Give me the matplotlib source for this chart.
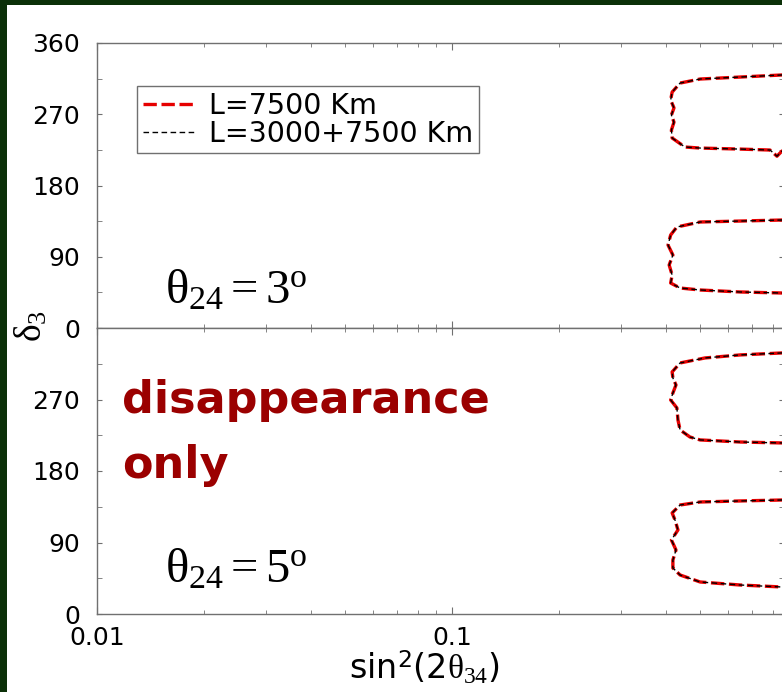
import numpy as np
import matplotlib.pyplot as plt
from matplotlib.patches import Rectangle
from matplotlib.ticker import FixedLocator, NullFormatter

plt.rcParams['font.family'] = ['DejaVu Sans']
plt.rcParams['mathtext.fontset'] = 'custom'
plt.rcParams['mathtext.rm'] = 'Liberation Serif'
plt.rcParams['mathtext.it'] = 'Liberation Serif:italic'
plt.rcParams['mathtext.sf'] = 'DejaVu Sans'

# contour points: sin^2(2 theta34) and delta3 (deg), theta24 = 3 deg panel
top_upper_x = [0.90, 0.850, 0.648, 0.500, 0.439, 0.417, 0.413, 0.422, 0.415, 0.422,
               0.415, 0.417, 0.453, 0.500, 0.648, 0.787, 0.823, 0.850, 0.90]
top_upper_d = [319.6, 319.6, 317.0, 314.5, 309.4, 298.0, 288.0, 278.0, 269.0, 260.0,
               250.0, 240.0, 228.6, 227.3, 226.0, 224.8, 217.0, 223.5, 223.5]
top_lower_x = [0.90, 0.850, 0.648, 0.500, 0.430, 0.413, 0.406, 0.419, 0.409, 0.417,
               0.413, 0.439, 0.500, 0.648, 0.850, 0.90]
top_lower_d = [136.4, 136.4, 135.1, 133.9, 127.6, 117.5, 104.8, 92.2, 79.6, 66.9,
               56.8, 50.5, 48.0, 45.5, 44.2, 44.2]

# theta24 = 5 deg panel
bot_upper_x = [0.90, 0.850, 0.648, 0.516, 0.439, 0.417, 0.419, 0.4275, 0.419, 0.413,
               0.430, 0.433, 0.439, 0.468, 0.500, 0.648, 0.850, 0.90]
bot_upper_d = [328.6, 328.6, 326.1, 322.3, 316.0, 304.7, 297.1, 288.3, 278.2, 269.4,
               259.4, 244.3, 231.7, 222.8, 219.1, 216.5, 215.3, 215.3]
bot_lower_x = [0.90, 0.850, 0.648, 0.500, 0.439, 0.417, 0.4248, 0.433, 0.415, 0.4275,
               0.419, 0.419, 0.439, 0.500, 0.648, 0.850, 0.90]
bot_lower_d = [143.5, 143.5, 142.3, 141.0, 137.2, 127.2, 118.3, 105.8, 93.2, 80.6,
               68.0, 57.9, 49.1, 40.3, 36.5, 34.0, 34.0]

series_labels = ['L=7500 Km', 'L=3000+7500 Km']
panel_labels = ['$\\mathrm{θ}_{24}\\mathrm{=3}^{\\mathrm{o}}$',
                '$\\mathrm{θ}_{24}\\mathrm{=5}^{\\mathrm{o}}$']
y_ticks = [0, 90, 180, 270, 360]

W, H = 782, 692
fig = plt.figure(figsize=(W / 100, H / 100), dpi=100, facecolor='#0b3008')
fig.patches.append(Rectangle((7 / W, 0), 1, 1 - 5 / H, transform=fig.transFigure,
                             facecolor='white', edgecolor='none', zorder=-10))

left, right = 97 / W, 784 / W
ax_top = fig.add_axes([left, 1 - 328 / H, right - left, 285 / H])
ax_bot = fig.add_axes([left, 1 - 614 / H, right - left, 286 / H])

spine_col = '#707070'
red_kw = dict(color='#e60000', lw=2.4, dashes=(4, 1.4))
blk_kw = dict(color='black', lw=1.0, dashes=(4, 2.5))

loops = {ax_top: [(top_upper_x, top_upper_d), (top_lower_x, top_lower_d)],
         ax_bot: [(bot_upper_x, bot_upper_d), (bot_lower_x, bot_lower_d)]}

for ax, curves in loops.items():
    for i, (xs, ds) in enumerate(curves):
        ax.plot(xs, ds, label=series_labels[0] if i == 0 else None, **red_kw)
        ax.plot(xs, ds, label=series_labels[1] if i == 0 else None, **blk_kw)

    ax.set_xscale('log')
    ax.set_xlim(0.01, 10 ** (-2 + (784 - 97) / 355))
    ax.set_ylim(0, 360)
    for s in ax.spines.values():
        s.set_color(spine_col)
        s.set_linewidth(1.0)
    ax.yaxis.set_minor_locator(FixedLocator([45, 135, 225, 315]))
    ax.tick_params(which='both', direction='in', top=True, right=True,
                   color=spine_col, labelsize=18)
    ax.tick_params(axis='y', which='both', length=3.6, pad=12)
    ax.tick_params(axis='x', which='major', length=5, pad=8.5)
    ax.tick_params(axis='x', which='minor', length=3)
    ax.xaxis.set_minor_formatter(NullFormatter())

ax_top.set_yticks(y_ticks)
ax_top.tick_params(axis='x', labelbottom=False)
ax_bot.set_yticks(y_ticks[:-1])
ax_bot.set_xticks([0.01, 0.1])
ax_bot.set_xticklabels(['0.01', '0.1'])

ax_top.legend(loc='upper left', bbox_to_anchor=(0.058, 0.849), borderaxespad=0,
              fontsize=20.5, handlelength=1.9, handletextpad=0.45, labelspacing=0.0,
              borderpad=0.2, frameon=True, fancybox=False, edgecolor=spine_col,
              framealpha=1)

ax_top.text(0.099, 0.088, panel_labels[0], transform=ax_top.transAxes,
            fontsize=35, va='baseline')
ax_bot.text(0.099, 0.109, panel_labels[1], transform=ax_bot.transAxes,
            fontsize=35, va='baseline')

ax_bot.text(0.036, 0.703, 'disappearance', transform=ax_bot.transAxes,
            fontsize=32, fontweight='bold', color='#9b0000', va='baseline')
ax_bot.text(0.036, 0.4755, 'only', transform=ax_bot.transAxes,
            fontsize=32, fontweight='bold', color='#9b0000', va='baseline')

ax_bot.set_xlabel('sin$^{\\mathsf{2}}$(2$\\mathrm{θ}_{34}$)', fontsize=24)
ax_bot.xaxis.set_label_coords(0.477, -0.122)
fig.text(0.040, 1 - 326 / H, '$\\mathrm{δ}_3$', rotation=90, fontsize=27,
         ha='center', va='center')

fig.savefig('out.png', dpi=100, facecolor=fig.get_facecolor())
